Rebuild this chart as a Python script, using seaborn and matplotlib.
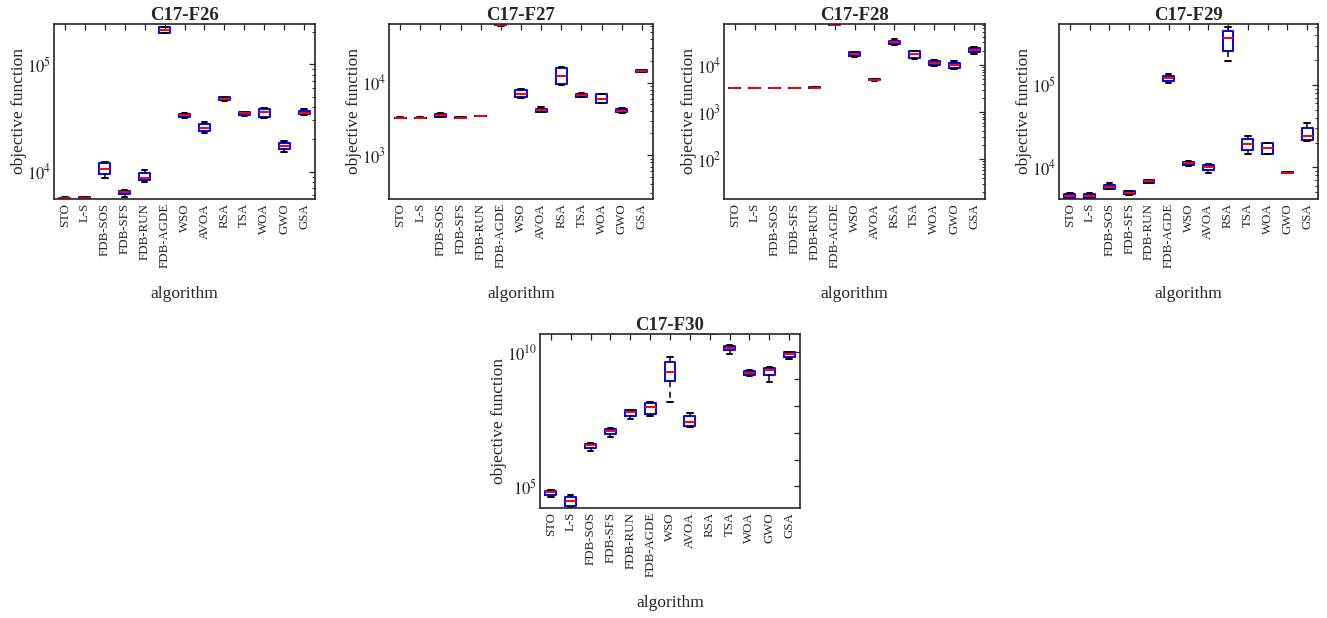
import numpy as np
import pandas as pd
import matplotlib
matplotlib.use("Agg")
import matplotlib.pyplot as plt
import matplotlib.ticker as mticker
import seaborn as sns

algorithms = ["STO", "L-S", "FDB-SOS", "FDB-SFS", "FDB-RUN", "FDB-AGDE",
              "WSO", "AVOA", "RSA", "TSA", "WOA", "GWO", "GSA"]

# five-number summaries (lower whisker, Q1, median, Q3, upper whisker) per algorithm
f26 = [(5.50e3, 5.58e3, 5.65e3, 5.72e3, 5.80e3),
       (5.55e3, 5.63e3, 5.70e3, 5.77e3, 5.85e3),
       (8.67e3, 9.44e3, 1.07e4, 1.20e4, 1.24e4),
       (5.85e3, 6.19e3, 6.41e3, 6.65e3, 6.74e3),
       (8.07e3, 8.36e3, 8.80e3, 9.64e3, 1.04e4),
       (1.95e5, 1.97e5, 2.09e5, 2.21e5, 2.24e5),
       (3.18e4, 3.23e4, 3.35e4, 3.47e4, 3.52e4),
       (2.28e4, 2.39e4, 2.57e4, 2.76e4, 2.90e4),
       (4.52e4, 4.62e4, 4.79e4, 4.93e4, 5.00e4),
       (3.33e4, 3.37e4, 3.49e4, 3.57e4, 3.62e4),
       (3.16e4, 3.25e4, 3.60e4, 3.86e4, 3.92e4),
       (1.53e4, 1.64e4, 1.75e4, 1.86e4, 1.92e4),
       (3.37e4, 3.42e4, 3.55e4, 3.67e4, 3.81e4)]

f27 = [(3.29e3, 3.295e3, 3.30e3, 3.305e3, 3.31e3),
       (3.29e3, 3.295e3, 3.30e3, 3.305e3, 3.31e3),
       (3.35e3, 3.40e3, 3.55e3, 3.71e3, 3.76e3),
       (3.28e3, 3.29e3, 3.30e3, 3.32e3, 3.33e3),
       (3.46e3, 3.47e3, 3.48e3, 3.49e3, 3.50e3),
       (6.10e4, 6.15e4, 6.20e4, 6.30e4, 6.40e4),
       (6.15e3, 6.29e3, 6.98e3, 7.93e3, 8.09e3),
       (3.91e3, 3.99e3, 4.21e3, 4.39e3, 4.58e3),
       (9.19e3, 9.49e3, 1.25e4, 1.57e4, 1.63e4),
       (6.29e3, 6.42e3, 6.69e3, 6.98e3, 7.21e3),
       (5.20e3, 5.31e3, 6.02e3, 6.91e3, 6.98e3),
       (3.85e3, 3.91e3, 4.12e3, 4.34e3, 4.40e3),
       (1.38e4, 1.40e4, 1.45e4, 1.49e4, 1.51e4)]

f28 = [(3.29e3, 3.295e3, 3.30e3, 3.305e3, 3.31e3),
       (3.29e3, 3.295e3, 3.30e3, 3.305e3, 3.31e3),
       (3.29e3, 3.295e3, 3.30e3, 3.305e3, 3.31e3),
       (3.29e3, 3.295e3, 3.30e3, 3.305e3, 3.31e3),
       (3.26e3, 3.29e3, 3.33e3, 3.37e3, 3.40e3),
       (7.00e4, 7.10e4, 7.20e4, 7.30e4, 7.40e4),
       (1.50e4, 1.55e4, 1.71e4, 1.86e4, 1.92e4),
       (4.60e3, 4.70e3, 4.81e3, 4.95e3, 5.05e3),
       (2.61e4, 2.74e4, 3.03e4, 3.28e4, 3.50e4),
       (1.32e4, 1.38e4, 1.71e4, 1.98e4, 2.01e4),
       (9.37e3, 1.02e4, 1.12e4, 1.20e4, 1.26e4),
       (8.22e3, 8.78e3, 9.84e3, 1.10e4, 1.22e4),
       (1.71e4, 1.86e4, 2.05e4, 2.25e4, 2.37e4)]

f29 = [(4.15e3, 4.25e3, 4.44e3, 4.70e3, 4.83e3),
       (4.18e3, 4.28e3, 4.50e3, 4.74e3, 4.85e3),
       (5.41e3, 5.51e3, 5.77e3, 6.10e3, 6.45e3),
       (4.66e3, 4.74e3, 4.92e3, 5.11e3, 5.20e3),
       (6.45e3, 6.52e3, 6.76e3, 7.02e3, 7.10e3),
       (1.07e5, 1.13e5, 1.20e5, 1.29e5, 1.34e5),
       (1.03e4, 1.06e4, 1.13e4, 1.17e4, 1.19e4),
       (8.46e3, 9.29e3, 1.01e4, 1.06e4, 1.10e4),
       (1.95e5, 2.59e5, 3.69e5, 4.57e5, 5.00e5),
       (1.45e4, 1.61e4, 1.90e4, 2.23e4, 2.42e4),
       (1.44e4, 1.47e4, 1.73e4, 1.95e4, 1.99e4),
       (8.45e3, 8.52e3, 8.61e3, 8.72e3, 8.80e3),
       (2.09e4, 2.13e4, 2.40e4, 3.03e4, 3.42e4)]

f30 = [(3.90e4, 4.90e4, 6.00e4, 6.90e4, 7.30e4),
       (1.70e4, 1.82e4, 2.86e4, 4.14e4, 4.77e4),
       (2.09e6, 2.70e6, 3.40e6, 3.92e6, 4.14e6),
       (6.92e6, 8.93e6, 1.12e7, 1.41e7, 1.45e7),
       (3.40e7, 4.38e7, 5.83e7, 6.92e7, 7.11e7),
       (4.14e7, 5.20e7, 9.18e7, 1.33e8, 1.45e8),
       (1.45e8, 8.67e8, 1.82e9, 4.27e9, 6.53e9),
       (1.67e7, 1.82e7, 2.48e7, 4.14e7, 5.35e7),
       (4.60e10, 4.70e10, 4.80e10, 4.90e10, 5.00e10),
       (8.93e9, 1.19e10, 1.45e10, 1.77e10, 1.87e10),
       (1.33e9, 1.41e9, 1.72e9, 1.98e9, 2.22e9),
       (7.96e8, 1.41e9, 2.22e9, 2.63e9, 2.78e9),
       (5.51e9, 6.92e9, 8.43e9, 1.00e10, 1.02e10)]

titles = ["C17-F26", "C17-F27", "C17-F28", "C17-F29", "C17-F30"]
panels = [f26, f27, f28, f29, f30]
ylims = [(5.56e3, 2.38e5), (2.5e2, 6.4e4), (14.4, 7.4e4), (4.12e3, 5.5e5), (1.58e4, 4.8e10)]
ytick_vals = [[1e4, 1e5], [1e3, 1e4], [1e2, 1e3, 1e4], [1e4, 1e5], [1e5, 1e10]]

sns.set_style("white")
plt.rcParams["font.family"] = ["Liberation Serif", "DejaVu Serif"]
plt.rcParams["mathtext.fontset"] = "stix"

W, H = 1327, 618
fig = plt.figure(figsize=(W / 100, H / 100), dpi=100)

# axes boxes in pixels: left, right, top, bottom
boxes = [(54, 315, 24, 199), (389, 653, 24, 199), (724, 985, 24, 199),
         (1059, 1318, 24, 199), (540, 800, 334, 508)]

for idx, (data, title, yl, yt, bx) in enumerate(zip(panels, titles, ylims, ytick_vals, boxes)):
    l, r, t, b = bx
    ax = fig.add_axes([l / W, 1 - b / H, (r - l) / W, (b - t) / H])
    rows = []
    for alg, stats in zip(algorithms, data):
        for v in stats:
            rows.append({"algorithm": alg, "value": v})
    df = pd.DataFrame(rows)
    sns.boxplot(data=df, x="algorithm", y="value", order=algorithms, ax=ax,
                log_scale=True, whis=(0, 100), width=0.55, fill=False,
                color="#0000ff", linewidth=1.4, showfliers=False,
                medianprops=dict(color="#ff0000", linewidth=1.4),
                whiskerprops=dict(color="black", linestyle=(0, (4, 3)), linewidth=1.1),
                capprops=dict(color="black", linewidth=1.4),
                boxprops=dict(color="#0000ff", linewidth=1.4))
    ax.set_yscale("log")
    ax.set_ylim(*yl)
    ax.set_xlim(-0.55, len(algorithms) - 0.45)
    if idx == 4:
        ax.yaxis.set_major_locator(mticker.LogLocator(base=10, subs=(1.0,), numticks=20))
        ax.yaxis.set_minor_locator(mticker.NullLocator())
        fmt = lambda v, p: r"$10^{%d}$" % round(np.log10(v)) if round(np.log10(v)) in (5, 10) else ""
        ax.yaxis.set_major_formatter(mticker.FuncFormatter(fmt))
    else:
        ax.yaxis.set_major_locator(mticker.FixedLocator(yt))
        ax.yaxis.set_minor_locator(mticker.LogLocator(base=10, subs=np.arange(2, 10), numticks=20))
        ax.yaxis.set_minor_formatter(mticker.NullFormatter())
        ax.yaxis.set_major_formatter(mticker.FuncFormatter(
            lambda v, p: r"$10^{%d}$" % round(np.log10(v))))
    ax.tick_params(axis="both", which="both", direction="in", top=True, right=True,
                   colors="#262626", labelcolor="#262626")
    ax.tick_params(axis="both", which="major", length=4, width=0.9)
    ax.tick_params(axis="both", which="minor", length=2.2, width=0.7)
    ax.tick_params(axis="x", labelsize=9.3, rotation=90, pad=3)
    ax.tick_params(axis="y", labelsize=12, pad=2)
    for s in ax.spines.values():
        s.set_visible(True)
        s.set_color("#262626")
        s.set_linewidth(1.2)
    ax.set_xlabel("algorithm", fontsize=12.5, color="#262626", labelpad=13)
    ax.set_ylabel("objective function", fontsize=12.5, color="#262626", labelpad=0)
    ax.set_title(title, fontsize=13.5, fontweight="bold", pad=3)

fig.savefig("out.png", dpi=100)
